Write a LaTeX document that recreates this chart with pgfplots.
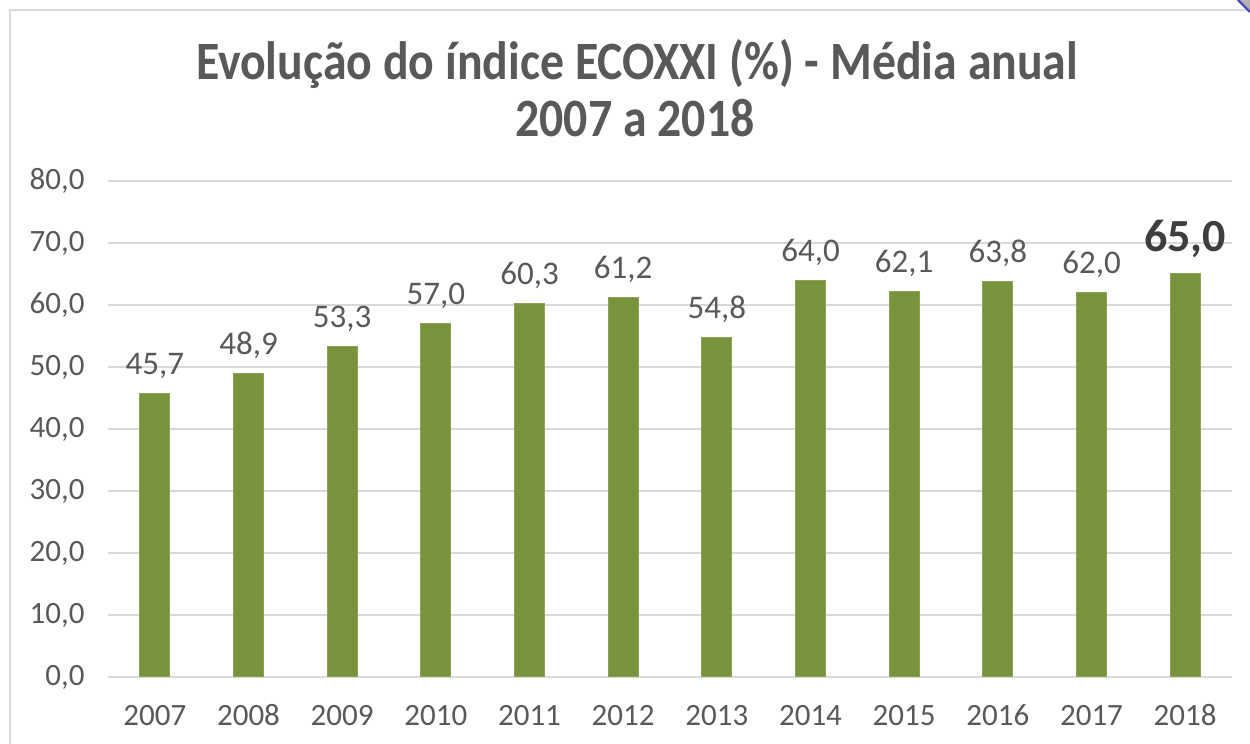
\documentclass[border=0pt]{standalone}
\usepackage{fontspec}
\setmainfont{Carlito}
\usepackage{graphicx}
\usepackage{pgfplots}
\pgfplotsset{compat=1.18}
\definecolor{bargreen}{HTML}{77933C}
\definecolor{txt}{HTML}{595959}
\definecolor{gridc}{HTML}{D9D9D9}
\begin{document}
\begin{tikzpicture}[x=0.5pt,y=0.5pt]
\path[use as bounding box, fill=white] (0,0) rectangle (1250,744);
\draw[gridc, line width=1.2pt] (10,0) -- (10,734) -- (1250,734);
\fill[gray!60] (1238,744) -- (1250,744) -- (1250,732) -- cycle;
\draw[blue!60!black!70, line width=1.2pt] (1238,744) -- (1250,732);
\node[txt, anchor=base, inner sep=0pt, font=\fontsize{27}{32}\selectfont\bfseries] at (637,664) {\scalebox{0.885}[1]{Evolução do índice ECOXXI (\%) - Média anual}};
\node[txt, anchor=base, inner sep=0pt, font=\fontsize{27}{32}\selectfont\bfseries] at (635,607) {\scalebox{0.885}[1]{2007 a 2018}};
\begin{axis}[
  at={(54pt,33.5pt)}, anchor=south west,
  scale only axis, width=562pt, height=248pt,
  xmin=-0.5, xmax=11.5, ymin=0, ymax=80,
  ytick={0,10,...,80},
  xtick={0,...,11},
  xticklabels={2007,2008,2009,2010,2011,2012,2013,2014,2015,2016,2017,2018},
  ymajorgrids, grid style={gridc, line width=0.8pt},
  axis line style={draw=none},
  major tick length=0pt,
  /pgf/number format/.cd, use comma, fixed, fixed zerofill, precision=1, assume math mode=true,
  /pgfplots/.cd,
  ticklabel style={txt, font=\fontsize{15.5}{18}\selectfont},
  yticklabel style={inner sep=0pt, anchor=east, xshift=-11.5pt},
  xticklabel style={inner sep=0pt, anchor=base, yshift=-24.5pt},
  ybar, bar width=15pt,
]
\addplot[fill=bargreen, draw=bargreen!85!white, line width=0.5pt, bar shift=0pt,
  nodes near coords={\pgfmathprintnumber[fixed,fixed zerofill,precision=1,use comma,assume math mode=true]{\pgfplotspointmeta}},
  every node near coord/.append style={txt, font=\fontsize{16.5}{19}\selectfont, inner sep=0pt, anchor=base, yshift=9.5pt}]
coordinates {(0,45.7) (1,48.9) (2,53.3) (3,57.0) (4,60.3) (5,61.2) (6,54.8) (7,64.0) (8,62.1) (9,63.8) (10,62.0)};
\addplot[fill=bargreen, draw=bargreen!85!white, line width=0.5pt, bar shift=0pt,
  nodes near coords={\pgfmathprintnumber[fixed,fixed zerofill,precision=1,use comma,assume math mode=true]{\pgfplotspointmeta}},
  every node near coord/.append style={txt!70!black, font=\fontsize{23}{27}\selectfont\bfseries, inner sep=0pt, anchor=base, yshift=11pt}]
coordinates {(11,65.0)};
\end{axis}
\end{tikzpicture}
\end{document}
